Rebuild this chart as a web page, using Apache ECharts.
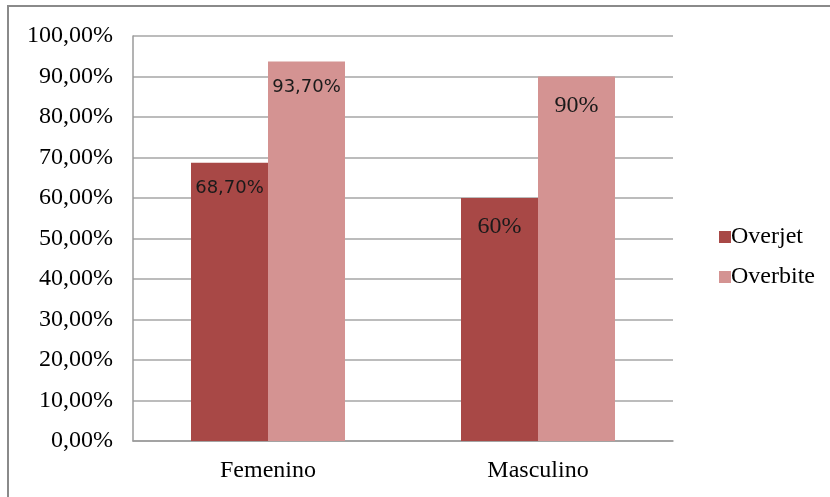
<!DOCTYPE html>
<html>
<head>
<meta charset="utf-8">
<script src="https://cdn.jsdelivr.net/npm/echarts@6/dist/echarts.min.js"></script>
<style>
  html, body { margin: 0; padding: 0; background: #ffffff; }
  #chart { width: 830px; height: 497px; }
</style>
</head>
<body>
<div id="chart"></div>
<script>
// Categories and series values (percent)
const categories = ['Femenino', 'Masculino'];
const overjet = [68.7, 60];
const overbite = [93.7, 90];
// Text shown on each bar
const overjetLabels = ['68,70%', '60%'];
const overbiteLabels = ['93,70%', '90%'];
// Value axis range and step
const yMin = 0, yMax = 100, yStep = 10;

const serif = '"Liberation Serif", "DejaVu Serif", serif';
const sans = '"DejaVu Sans", Verdana, sans-serif';
// The first group's labels are set in a sans face, the second in serif
const labelFonts = [sans, serif];

function barData(values, texts) {
  return values.map((v, i) => ({
    value: v,
    label: {
      formatter: texts[i],
      fontFamily: labelFonts[i],
      fontSize: labelFonts[i] === sans ? 18 : 24
    }
  }));
}

const chart = echarts.init(document.getElementById('chart'), null, { renderer: 'canvas' });
chart.setOption({
  animation: false,
  backgroundColor: '#ffffff',
  graphic: [{
    type: 'rect',
    shape: { x: 8, y: 6, width: 860, height: 540 },
    style: { fill: 'none', stroke: '#8a8a8a', lineWidth: 2 },
    silent: true,
    z: -1
  }],
  grid: { left: 133, right: 157, top: 36, bottom: 56 },
  legend: {
    orient: 'vertical',
    left: 714,
    top: 220,
    itemWidth: 12,
    itemHeight: 12,
    itemGap: 16,
    icon: 'rect',
    textStyle: { fontFamily: serif, fontSize: 24, color: '#000', padding: [0, 0, 0, -5] },
    data: ['Overjet', 'Overbite']
  },
  xAxis: {
    type: 'category',
    data: categories,
    axisLine: { show: true, lineStyle: { color: '#9a9a9a', width: 1.5 } },
    axisTick: { show: false },
    axisLabel: { fontFamily: serif, fontSize: 24, color: '#000', margin: 18 }
  },
  yAxis: {
    type: 'value',
    min: yMin,
    max: yMax,
    interval: yStep,
    axisLine: { show: true, lineStyle: { color: '#9a9a9a', width: 1.5 } },
    axisTick: { show: false },
    splitLine: { lineStyle: { color: '#a6a6a6', width: 1.5 } },
    axisLabel: {
      fontFamily: serif, fontSize: 24, color: '#000', margin: 20,
      formatter: v => v.toFixed(2).replace('.', ',') + '%'
    }
  },
  series: [
    {
      name: 'Overjet',
      type: 'bar',
      barWidth: 77,
      barGap: '0%',
      itemStyle: { color: '#a84846' },
      label: { show: true, position: 'insideTop', distance: 17, color: '#1a1a1a' },
      data: barData(overjet, overjetLabels)
    },
    {
      name: 'Overbite',
      type: 'bar',
      barWidth: 77,
      barGap: '0%',
      itemStyle: { color: '#d49392' },
      label: { show: true, position: 'insideTop', distance: 17, color: '#1a1a1a' },
      data: barData(overbite, overbiteLabels)
    }
  ]
});
</script>
</body>
</html>
